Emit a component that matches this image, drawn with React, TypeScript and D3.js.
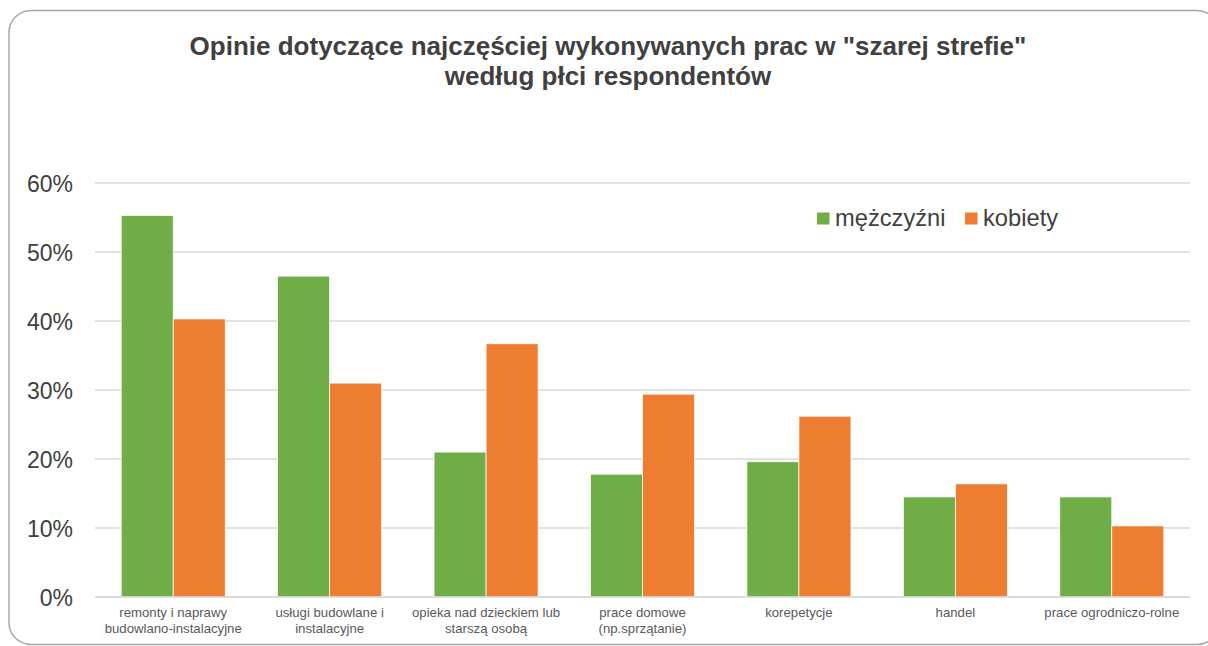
import React from "react";
import * as d3 from "d3";

const categories = [
  ["remonty i naprawy", "budowlano-instalacyjne"],
  ["usługi budowlane i", "instalacyjne"],
  ["opieka nad dzieckiem lub", "starszą osobą"],
  ["prace domowe", "(np.sprzątanie)"],
  ["korepetycje"],
  ["handel"],
  ["prace ogrodniczo-rolne"],
];
const seriesNames = ["mężczyźni", "kobiety"];
const men = [55.3, 46.5, 21.0, 17.8, 19.6, 14.5, 14.5];
const women = [40.3, 31.0, 36.7, 29.4, 26.2, 16.4, 10.3];
const yTicks = [0, 10, 20, 30, 40, 50, 60];
const colors = ["#70AD47", "#ED7D31"];

const W = 1208;
const H = 646;
const left = 95;
const right = 1190;
const top = 183;
const bottom = 597;
const FONT = "'Liberation Sans', Arial, sans-serif";

export default function App() {
  const x0 = d3
    .scaleBand<number>()
    .domain(categories.map((_, i) => i))
    .range([left, right])
    .paddingInner(0.335)
    .paddingOuter(0.1675);
  const x1 = d3.scaleBand<number>().domain([0, 1]).range([0, x0.bandwidth()]);
  const y = d3.scaleLinear().domain([0, 60]).range([bottom, top]);
  const series = [men, women];

  return (
    <svg
      width={W}
      height={H}
      style={{ position: "absolute", left: 0, top: 0, background: "#fff" }}
      fontFamily={FONT}
    >
      <rect x={9} y={10.5} width={1210} height={634} rx={22} ry={22} fill="#fff" stroke="#a6a6a6" strokeWidth={1.5} />
      <text x={608} y={55} textAnchor="middle" fontSize={26} fontWeight="bold" fill="#404040">
        Opinie dotyczące najczęściej wykonywanych prac w "szarej strefie"
      </text>
      <text x={608} y={85} textAnchor="middle" fontSize={26} fontWeight="bold" fill="#404040">
        według płci respondentów
      </text>
      {yTicks.map((t) => (
        <g key={t}>
          <line x1={left} x2={right} y1={y(t)} y2={y(t)} stroke="#d9d9d9" strokeWidth={1.5} />
          <text x={73} y={y(t) + 9} textAnchor="end" fontSize={23} fill="#404040">
            {t}%
          </text>
        </g>
      ))}
      {series.map((vals, s) =>
        vals.map((v, i) => (
          <rect
            key={`${s}-${i}`}
            x={(x0(i) as number) + (x1(s) as number)}
            y={y(v)}
            width={x1.bandwidth()}
            height={y(0) - y(v)}
            fill={colors[s]}
            stroke="#fff"
            strokeWidth={0.75}
          />
        ))
      )}
      <line x1={left} x2={right} y1={y(0)} y2={y(0)} stroke="#d9d9d9" strokeWidth={1.5} />
      {categories.map((lines, i) => (
        <text key={i} textAnchor="middle" fontSize={13.2} fill="#595959">
          {lines.map((l, j) => (
            <tspan key={j} x={(x0(i) as number) + x0.bandwidth() / 2} y={617 + j * 16}>
              {l}
            </tspan>
          ))}
        </text>
      ))}
      {seriesNames.map((n, s) => {
        const lx = [817, 965][s];
        return (
          <g key={n}>
            <rect x={lx} y={212.5} width={12.5} height={12} fill={colors[s]} />
            <text x={lx + 18} y={226} fontSize={23.7} fill="#404040">
              {n}
            </text>
          </g>
        );
      })}
    </svg>
  );
}
